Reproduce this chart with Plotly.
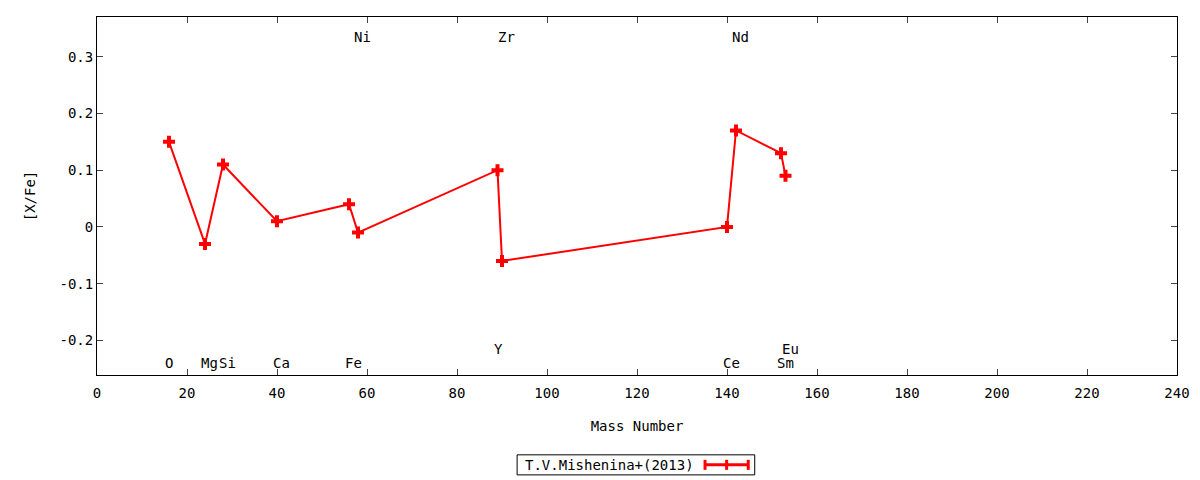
import plotly.graph_objects as go

# data
mass = [16, 24, 28, 40, 56, 58, 89, 90, 140, 142, 152, 153]
xfe = [0.15, -0.03, 0.11, 0.01, 0.04, -0.01, 0.10, -0.06, 0.0, 0.17, 0.13, 0.09]

# element labels: name, mass number, height
elem_names = ["O", "Mg", "Si", "Ca", "Fe", "Ni", "Y", "Zr", "Ce", "Nd", "Sm", "Eu"]
elem_x = [16, 24, 28, 40, 56, 58, 89, 90, 140, 142, 152, 153]
elem_y = [-0.24, -0.24, -0.24, -0.24, -0.24, 0.335, -0.215, 0.335, -0.24, 0.335, -0.24, -0.215]

FONT = "DejaVu Sans Mono"
FS = 14

trace = go.Scatter(x=mass, y=xfe, mode='lines+markers', name='T.V.Mishenina+(2013)',
                   line=dict(color='#ff0000', width=2),
                   marker=dict(symbol='cross', size=10, color='#ff0000'),
                   showlegend=False)

layout = go.Layout(
    width=1200, height=480,
    margin=dict(l=97, r=23, t=17, b=105, autoexpand=False),
    paper_bgcolor='white', plot_bgcolor='white',
    font=dict(family=FONT, size=FS, color='black'),
    xaxis=dict(range=[0, 240], tickvals=list(range(0, 241, 20)), ticks='inside', ticklen=6,
               showline=True, linecolor='black', linewidth=1, mirror='ticks', automargin=False,
               tickfont=dict(family=FONT, size=FS, color='black'), ticklabelstandoff=5,
               showgrid=False, zeroline=False,
               title=dict(text='Mass Number', standoff=21, font=dict(family=FONT, size=FS))),
    yaxis=dict(range=[-0.261, 0.37], tickvals=[-0.2, -0.1, 0, 0.1, 0.2, 0.3],
               ticktext=['-0.2', '-0.1', '0', '0.1', '0.2', '0.3'], ticks='inside', ticklen=6,
               showline=True, linecolor='black', linewidth=1, mirror='ticks', automargin=False,
               tickfont=dict(family=FONT, size=FS, color='black'),
               showgrid=False, zeroline=False,
               title=dict(text='[X/Fe]', standoff=20, font=dict(family=FONT, size=FS))),
)

fig = go.Figure(data=[trace], layout=layout)

for name, x, y in zip(elem_names, elem_x, elem_y):
    fig.add_annotation(x=x, y=y, text=name, showarrow=False, xanchor='left', xshift=-6,
                       font=dict(family=FONT, size=FS))

# gnuplot style key below the plot
fig.add_shape(type='rect', xref='paper', yref='paper', x0=0.389, x1=0.609, y0=-0.279, y1=-0.223,
              line=dict(color='black', width=1))
fig.add_annotation(xref='paper', yref='paper', x=0.5546, y=-0.251, text='T.V.Mishenina+(2013)',
                   showarrow=False, xanchor='right', yanchor='middle', font=dict(family=FONT, size=FS))
fig.add_shape(type='line', xref='paper', yref='paper', x0=0.563, x1=0.603, y0=-0.251, y1=-0.251,
              line=dict(color='#ff0000', width=3))
for xp in [0.563, 0.583, 0.603]:
    fig.add_shape(type='line', xref='paper', yref='paper', x0=xp, x1=xp, y0=-0.265, y1=-0.237,
                  line=dict(color='#ff0000', width=3))

# page has a default 8px body margin; drop it so the figure fills the window
fig.write_html("out.html", config={'displayModeBar': False},
               post_script="document.body.style.margin='0';")
